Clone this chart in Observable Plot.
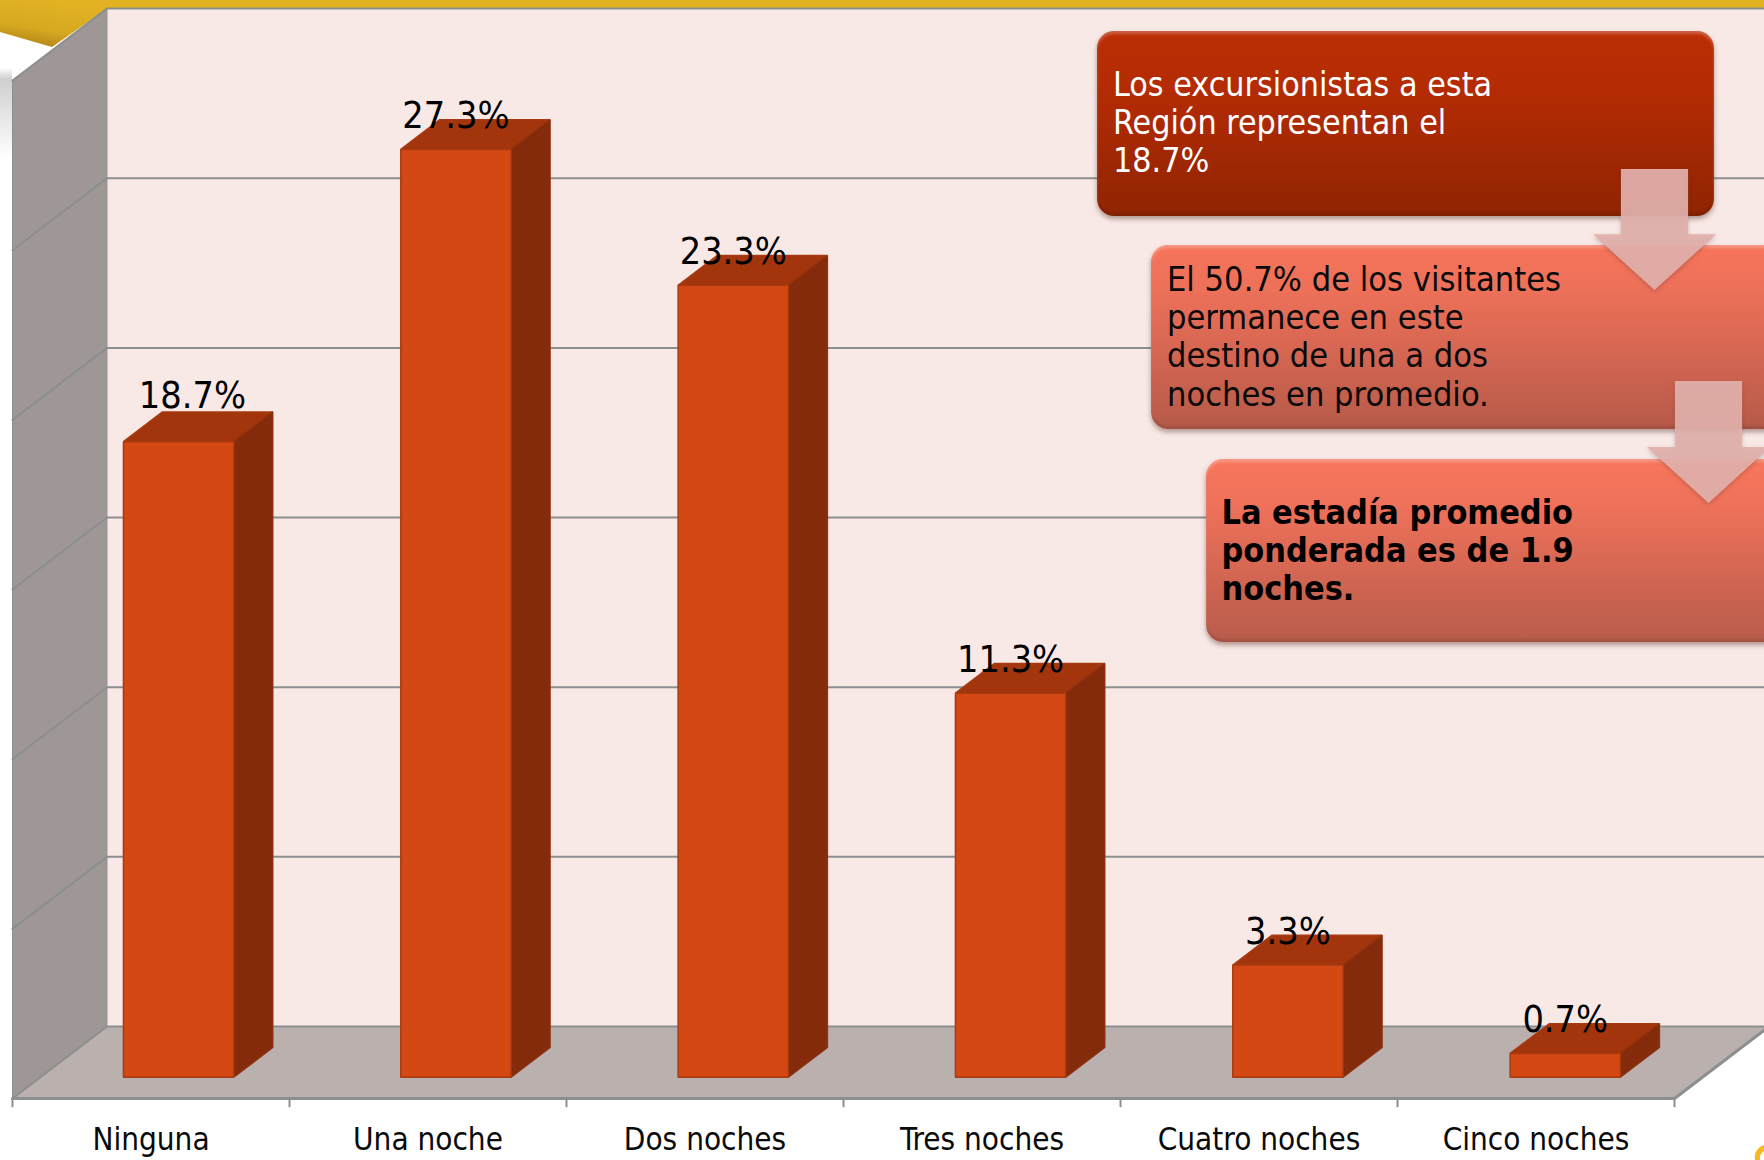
<!DOCTYPE html>
<html lang="es">
<head>
<meta charset="utf-8">
<script src="https://cdn.jsdelivr.net/npm/d3@7"></script>
<script src="https://cdn.jsdelivr.net/npm/@observablehq/plot@0.6"></script>
<style>
html,body{margin:0;padding:0;background:#fff;width:1764px;height:1160px;overflow:hidden;position:relative}
#chart,#decor{position:absolute;left:0;top:0}
#chart svg{display:block;background:transparent}
.box{position:absolute;border-radius:17px;box-sizing:border-box;font-family:"DejaVu Sans Condensed","DejaVu Sans",sans-serif;white-space:nowrap;box-shadow:0 3px 5px rgba(90,50,40,.45), inset 0 3px 3px rgba(255,255,255,.25), inset 0 -3px 3px rgba(0,0,0,.12)}
.wrap{position:absolute;filter:drop-shadow(0 2px 2px rgba(90,50,40,.3))}
.arrow{width:100%;height:100%;background:rgba(226,176,172,.93);clip-path:polygon(22.7% 0,77.3% 0,77.3% 54%,100% 54%,50% 100%,0 54%,22.7% 54%)}
</style>
</head>
<body>
<svg id="decor" width="1764" height="1160">
  <defs>
    <linearGradient id="gold" x1="0" y1="1" x2="0.35" y2="0"><stop offset="0" stop-color="#a87a14"/><stop offset=".45" stop-color="#d6a821"/><stop offset="1" stop-color="#e2b223"/></linearGradient>
    <linearGradient id="fade" x1="0" y1="0" x2="0" y2="1"><stop offset="0" stop-color="#ffffff"/><stop offset=".12" stop-color="#cfcfcf"/><stop offset="1" stop-color="#ffffff"/></linearGradient>
  </defs>
  <rect x="0" y="0" width="1764" height="8" fill="#e2b223"/>
  <polygon points="0,0 108,0 108,8 52,47 0,32" fill="url(#gold)"/>
  <rect x="0" y="68" width="12" height="90" fill="url(#fade)"/>
  <path d="M1755 1160a13 13 0 0 1 9-15v6a9 9 0 0 0-4 9z" fill="#f5b820"/>
</svg>
<div id="chart"></div>
<div class="box" style="left:1097px;top:31px;width:617px;height:184.500px;background:linear-gradient(#bb2e05 0%,#b32b04 35%,#8f2402 100%);color:#fff;padding:35px 0 0 16px;font-size:33.700px;line-height:37.800px">Los excursionistas a esta<br>Región representan el<br>18.7%</div>
<div class="box" style="left:1151px;top:245px;width:640px;height:184px;background:linear-gradient(#f6745a 0%,#ed7059 25%,#b65a49 100%);color:#0a0a0a;padding:15px 0 0 16px;font-size:34.100px;line-height:38.200px">El 50.7% de los visitantes<br>permanece en este<br>destino de una a dos<br>noches en promedio.</div>
<div class="box" style="left:1206px;top:459px;width:600px;height:183px;background:linear-gradient(#f8765c 0%,#ef715a 25%,#b85c4b 100%);color:#000;font-weight:700;padding:35px 0 0 15.500px;font-size:33.900px;line-height:37.800px">La estadía promedio<br>ponderada es de 1.9<br>noches.</div>
<div class="wrap" style="left:1593px;top:169px;width:123px;height:121px"><div class="arrow"></div></div>
<div class="wrap" style="left:1647px;top:381px;width:123px;height:122px"><div class="arrow"></div></div>
<script>
// Chart values
const categories = ["Ninguna", "Una noche", "Dos noches", "Tres noches", "Cuatro noches", "Cinco noches"];
const values = [18.7, 27.3, 23.3, 11.3, 3.3, 0.7];
const labels = ["18.7%", "27.3%", "23.3%", "11.3%", "3.3%", "0.7%"];
const gridValues = [0, 5, 10, 15, 20, 25, 30];
const axisTicks = [0, 1, 2, 3, 4, 5, 6];

// 3D projection expressed in data units: category steps on x, percent on y
const depthX = 0.341, depthY = 2.122;
const barStart = 0.30, barWidth = 0.398, barStep = 1.0012, barGrow = 1.0017, depthNear = 0.295, depthFar = 0.708;
const project = (x, v, d) => ({x: x + d * depthX, y: v - (1 - d) * depthY});
const face = (pts, fill, stroke, strokeWidth = 1.5) =>
  Plot.line(pts, {x: "x", y: "y", fill, stroke, strokeWidth, curve: "linear-closed", strokeLinejoin: "miter"});

const bars = values.flatMap((value, i) => {
  const v = value * barGrow;
  const a = i * barStep + barStart, b = a + barWidth;
  return [
    face([project(a, v, depthNear), project(b, v, depthNear), project(b, v, depthFar), project(a, v, depthFar)], "#a3350d", "#a63a12"),
    face([project(b, 0, depthNear), project(b, 0, depthFar), project(b, v, depthFar), project(b, v, depthNear)], "#842b0c", "#8f300e"),
    face([project(a, 0, depthNear), project(b, 0, depthNear), project(b, v, depthNear), project(a, v, depthNear)], "#d44813", "#a83a12")
  ];
});

const labelFont = {fontFamily: "'DejaVu Sans Condensed','DejaVu Sans',sans-serif", fontSize: 37.5, fill: "#000"};
const labelRows = labels.map((text, i) => ({
  text,
  x: i * barStep + barStart + depthNear * depthX + barWidth / 2,
  y: values[i] * barGrow - (1 - depthNear) * depthY
}));

const lineGray = "#8c8f8f";
const plot = Plot.plot({
  width: 1764, height: 1160,
  marginLeft: 12, marginRight: 0, marginTop: 0, marginBottom: 0,
  x: {type: "linear", domain: [0, 1752 / 277], axis: null},
  y: {type: "linear", domain: [-134 / 33.93, 1026 / 33.93], axis: null},
  style: {background: "transparent", overflow: "hidden"},
  marks: [
    // back wall
    face([project(0, 0, 1), project(6, 0, 1), project(6, 30, 1), project(0, 30, 1)], "#f8e9e6", "none"),
    // left wall
    face([project(0, 0, 0), project(0, 0, 1), project(0, 30, 1), project(0, 30, 0)], "#9e9795", "none"),
    // floor
    face([project(0, 0, 0), project(6, 0, 0), project(6, 0, 1), project(0, 0, 1)], "#bab0ae", "none"),
    // gridlines
    ...gridValues.map(v => Plot.line([project(0, v, 0), project(0, v, 1), project(6, v, 1)], {x: "x", y: "y", stroke: lineGray, strokeWidth: 2})),
    // wall and floor edges
    Plot.line([project(0, 0, 0), project(6, 0, 0), project(6, 0, 1)], {x: "x", y: "y", stroke: lineGray, strokeWidth: 3}),
    Plot.line([project(0, 30, 0), project(0, 0, 0)], {x: "x", y: "y", stroke: lineGray, strokeWidth: 1}),
    Plot.ruleX([project(0, 30, 1)], {x: "x", y1: 0, y2: 30, stroke: lineGray, strokeWidth: 1}),
    // tick marks below the floor edge
    Plot.ruleX(axisTicks, {x: d => d, y1: -depthY, y2: -depthY - 0.27, stroke: lineGray, strokeWidth: 2}),
    ...bars,
    // category labels
    Plot.text(categories, {
      x: (d, i) => i + 0.5, y: -depthY, dy: 52, text: d => d,
      fontFamily: "'DejaVu Sans Condensed','DejaVu Sans',sans-serif", fontSize: 31.2, fill: "#0a0a0a", lineAnchor: "bottom"
    }),
    // value labels: the first one sits a little higher and to the right, as in the source
    Plot.text(labelRows.slice(0, 1), {x: d => d.x + 0.05, y: "y", text: "text", dy: -46, ...labelFont}),
    Plot.text(labelRows.slice(1), {x: "x", y: "y", text: "text", dy: -33, ...labelFont})
  ]
});
document.getElementById("chart").appendChild(plot);
</script>
</body>
</html>
